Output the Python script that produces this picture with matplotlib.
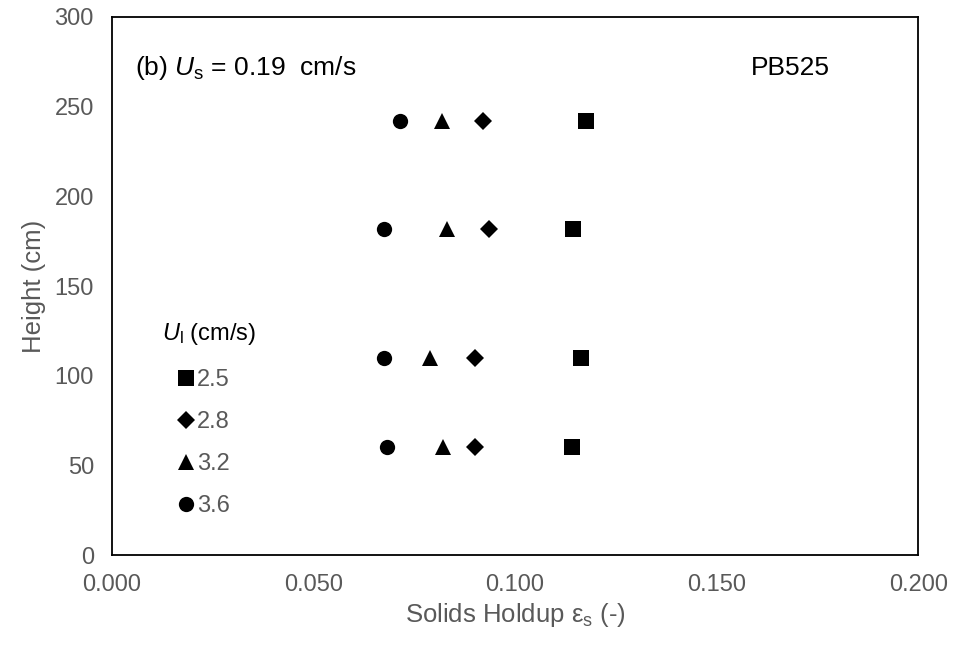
import matplotlib
matplotlib.use("Agg")
import matplotlib.pyplot as plt
from matplotlib.lines import Line2D

plt.rcParams['font.family'] = ['Liberation Sans', 'DejaVu Sans']
plt.rcParams['mathtext.fontset'] = 'custom'
plt.rcParams['mathtext.rm'] = 'Liberation Sans'
plt.rcParams['mathtext.it'] = 'Liberation Sans:italic'

# Measurement heights (cm)
heights = [242, 182, 110, 60]

# Solids holdup at each height, one list per liquid velocity U_l (cm/s)
ul_labels = ["2.5", "2.8", "3.2", "3.6"]
holdup_25 = [0.1176, 0.1144, 0.1164, 0.1141]
holdup_28 = [0.0921, 0.0935, 0.0901, 0.0901]
holdup_32 = [0.0819, 0.0831, 0.0789, 0.0821]
holdup_36 = [0.0715, 0.0675, 0.0675, 0.0682]

series = [holdup_25, holdup_28, holdup_32, holdup_36]
markers = ['s', 'D', '^', 'o']
msizes = [11, 9, 11, 11]

x_ticks = [0.0, 0.05, 0.10, 0.15, 0.20]
y_ticks = [0, 50, 100, 150, 200, 250, 300]

gray = '#595959'

fig = plt.figure(figsize=(9.54, 6.53), dpi=100)
ax = fig.add_axes([0.1174, 0.150, 0.845, 0.824])

for vals, m, ms in zip(series, markers, msizes):
    ax.plot(vals, heights, linestyle='none', marker=m, markersize=ms,
            color='black', markeredgewidth=0)

ax.set_xlim(0, 0.2)
ax.set_ylim(0, 300)
ax.set_xticks(x_ticks)
ax.set_xticklabels([f"{v:.3f}" for v in x_ticks])
ax.set_yticks(y_ticks)
ax.tick_params(length=0, labelsize=17, colors=gray)
ax.tick_params(axis='x', pad=13.5)
ax.tick_params(axis='y', pad=13)
for s in ax.spines.values():
    s.set_linewidth(1.3)
    s.set_color('black')

ax.set_xlabel(r"Solids Holdup ε$_\mathrm{s}$ (-)", fontsize=18.5, color=gray, labelpad=4)
ax.set_ylabel("Height (cm)", fontsize=18.5, color=gray, labelpad=6)

ax.text(0.0285, 0.905, r"(b) $U_\mathrm{s}$ = 0.19  cm/s", transform=ax.transAxes,
        fontsize=19, color='black', ha='left', va='center')
ax.text(0.841, 0.905, "PB525", transform=ax.transAxes,
        fontsize=19, color='black', ha='center', va='center')

# Legend for liquid velocity
ax.text(0.062, 0.411, r"$U_\mathrm{l}$ (cm/s)", transform=ax.transAxes,
        fontsize=17, color='black', ha='left', va='center')
handles = [Line2D([], [], linestyle='none', marker=m, markersize=ms,
                  color='black', markeredgewidth=0)
           for m, ms in zip(markers, msizes)]
leg = ax.legend(handles, ul_labels, loc='upper left', bbox_to_anchor=(0.083, 0.346),
                frameon=False, fontsize=17, handlelength=0.6, handletextpad=0.165,
                labelspacing=0.85, borderpad=0, borderaxespad=0)
for t in leg.get_texts():
    t.set_color(gray)

fig.savefig("out.png", dpi=100)
